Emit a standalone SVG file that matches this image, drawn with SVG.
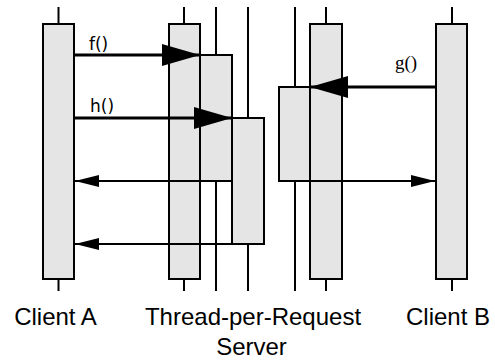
<svg xmlns="http://www.w3.org/2000/svg" width="495" height="364" viewBox="0 0 495 364">
<style>
.bar{fill:#e5e5e5;stroke:#000;stroke-width:2}
.ln{stroke:#000;stroke-width:2;fill:none}
.call{stroke:#000;stroke-width:3;fill:none}
.ret{stroke:#000;stroke-width:2;fill:none}
.lbl{font-family:"Liberation Sans",Arial,sans-serif;font-size:24px;fill:#000}
.msg{font-family:"DejaVu Sans",sans-serif;font-size:17px;fill:#000}
.msgs{font-family:"Liberation Serif","Times New Roman",serif;font-size:19px;fill:#000}
</style>
<defs>
<marker id="big" markerUnits="userSpaceOnUse" markerWidth="38" markerHeight="22" refX="38" refY="11" orient="auto" overflow="visible">
<path d="M0,0 L38,11 L0,22 z" fill="#000"/>
</marker>
<marker id="small" markerUnits="userSpaceOnUse" markerWidth="24" markerHeight="12" refX="24" refY="6" orient="auto" overflow="visible">
<path d="M0,0 L24,6 L0,12 z" fill="#000"/>
</marker>
</defs>
<rect width="495" height="364" fill="#fff"/>
<g id="clientA">
<line class="ln" x1="58.5" y1="7" x2="58.5" y2="24"/>
<line class="ln" x1="58.5" y1="279" x2="58.5" y2="291"/>
<rect class="bar" x="43" y="24" width="31" height="255"/>
</g>
<g id="server">
<line class="ln" x1="184" y1="7" x2="184" y2="24"/>
<line class="ln" x1="184" y1="279" x2="184" y2="291"/>
<rect class="bar" x="169" y="24" width="31" height="255"/>
</g>
<g id="thread1">
<line class="ln" x1="216" y1="7" x2="216" y2="55"/>
<line class="ln" x1="216" y1="181" x2="216" y2="291"/>
<rect class="bar" x="200" y="55" width="32" height="126"/>
</g>
<g id="thread2">
<line class="ln" x1="248" y1="7" x2="248" y2="118"/>
<line class="ln" x1="248" y1="244" x2="248" y2="291"/>
<rect class="bar" x="232" y="118" width="32" height="126"/>
</g>
<g id="server2">
<line class="ln" x1="326" y1="7" x2="326" y2="24"/>
<line class="ln" x1="326" y1="279" x2="326" y2="291"/>
<rect class="bar" x="310" y="24" width="32" height="255"/>
</g>
<g id="thread3">
<line class="ln" x1="295" y1="7" x2="295" y2="87"/>
<line class="ln" x1="295" y1="181" x2="295" y2="291"/>
<rect class="bar" x="279" y="87" width="31" height="94"/>
</g>
<g id="clientB">
<line class="ln" x1="452" y1="7" x2="452" y2="24"/>
<line class="ln" x1="452" y1="279" x2="452" y2="291"/>
<rect class="bar" x="436" y="24" width="31" height="255"/>
</g>
<g id="connectors">
<line class="call" x1="74" y1="55" x2="200" y2="55" marker-end="url(#big)"/>
<line class="call" x1="74" y1="118" x2="232" y2="118" marker-end="url(#big)"/>
<line class="call" x1="437" y1="87" x2="310" y2="87" marker-end="url(#big)"/>
<line class="ret" x1="232" y1="181" x2="75" y2="181" marker-end="url(#small)"/>
<line class="ret" x1="232" y1="244" x2="75" y2="244" marker-end="url(#small)"/>
<line class="ret" x1="279" y1="181" x2="435" y2="181" marker-end="url(#small)"/>
<text class="msg" x="89" y="50">f()</text>
<text class="msg" x="90" y="112">h()</text>
<text class="msgs" x="395" y="69">g()</text>
</g>
<g id="labels">
<text class="lbl" x="55.5" y="325" text-anchor="middle">Client A</text>
<text class="lbl" x="253" y="325" text-anchor="middle">Thread-per-Request</text>
<text class="lbl" x="251.5" y="355" text-anchor="middle">Server</text>
<text class="lbl" x="448" y="325" text-anchor="middle">Client B</text>
</g>
</svg>
